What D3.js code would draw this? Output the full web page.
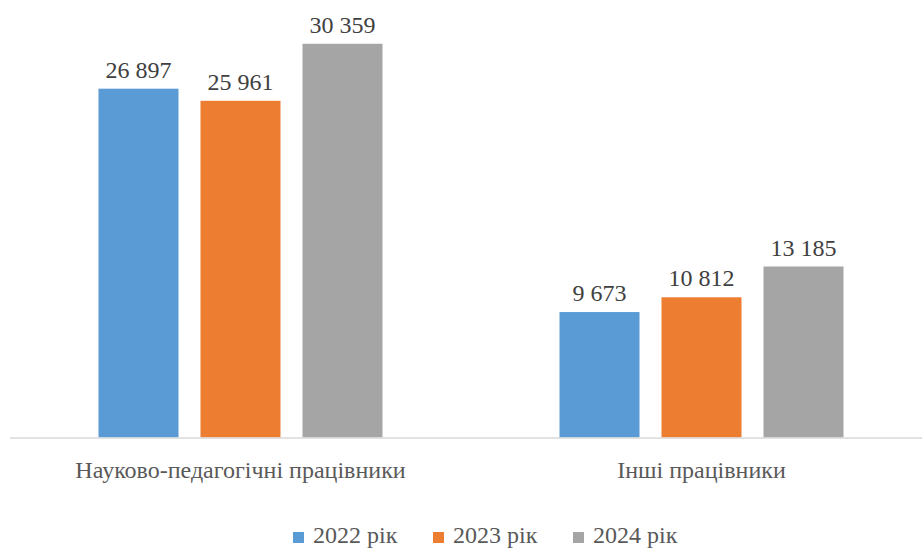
<!DOCTYPE html>
<html>
<head>
<meta charset="utf-8">
<script src="https://cdn.jsdelivr.net/npm/d3@7"></script>
<style>
  svg text { font-family: "Liberation Serif", "Times New Roman", serif !important; }
</style>
</head>
<body style="margin:0">
<div id="chart"></div>
<script>
const categories = ["Науково-педагогічні працівники", "Інші працівники"];
const seriesNames = ["2022 рік", "2023 рік", "2024 рік"];
const values2022 = [26897, 9673];
const values2023 = [25961, 10812];
const values2024 = [30359, 13185];
const colors = ["#5B9BD5", "#ED7D31", "#A5A5A5"];

const W = 922, H = 549;
const SERIF = "\"Liberation Serif\", \"Times New Roman\", serif";
const seriesValues = [values2022, values2023, values2024];

const svg = d3.select("#chart").append("svg").attr("width", W).attr("height", H)
  .style("display", "block");

const x0 = d3.scaleBand().domain(categories).range([10, 932]);
const x1 = d3.scaleBand().domain(seriesNames).range([88.5, 372.5]).paddingInner(0.2157);
const y = d3.scaleLinear().domain([0, 32000]).range([437.5, 22.5]);

const fmt = v => d3.format(",")(v).replace(/,/g, " ");

const data = [];
categories.forEach((c, i) => {
  seriesNames.forEach((s, j) => {
    data.push({ cat: c, series: s, value: seriesValues[j][i], color: colors[j] });
  });
});

svg.append("g").selectAll("rect").data(data).enter().append("rect")
  .attr("x", d => x0(d.cat) + x1(d.series))
  .attr("y", d => y(d.value))
  .attr("width", x1.bandwidth())
  .attr("height", d => y(0) - y(d.value))
  .attr("fill", d => d.color);

svg.append("g").selectAll("text").data(data).enter().append("text")
  .attr("x", d => x0(d.cat) + x1(d.series) + x1.bandwidth() / 2)
  .attr("y", d => y(d.value) - 11)
  .attr("font-size", 24)
  .attr("text-anchor", "middle")
  .attr("fill", "#404040")
  .style("font-family", SERIF, "important")
  .text(d => fmt(d.value));

svg.append("line")
  .attr("x1", 10).attr("x2", W)
  .attr("y1", y(0) + 0.5).attr("y2", y(0) + 0.5)
  .attr("stroke", "#D9D9D9").attr("stroke-width", 1.3);

svg.append("g").selectAll("text").data(categories).enter().append("text")
  .attr("x", d => x0(d) + x0.bandwidth() / 2)
  .attr("y", 478)
  .attr("font-size", 24)
  .attr("text-anchor", "middle")
  .attr("fill", "#595959")
  .style("font-family", SERIF, "important")
  .text(d => d);

const legend = svg.append("g");
seriesNames.forEach((s, j) => {
  const lx = 293 + j * 140;
  legend.append("rect")
    .attr("x", lx).attr("y", 532)
    .attr("width", 11).attr("height", 11)
    .attr("fill", colors[j]);
  legend.append("text")
    .attr("x", lx + 20).attr("y", 543)
    .attr("font-size", 24)
    .attr("fill", "#595959")
    .style("font-family", SERIF, "important")
    .text(s);
});
</script>
</body>
</html>
